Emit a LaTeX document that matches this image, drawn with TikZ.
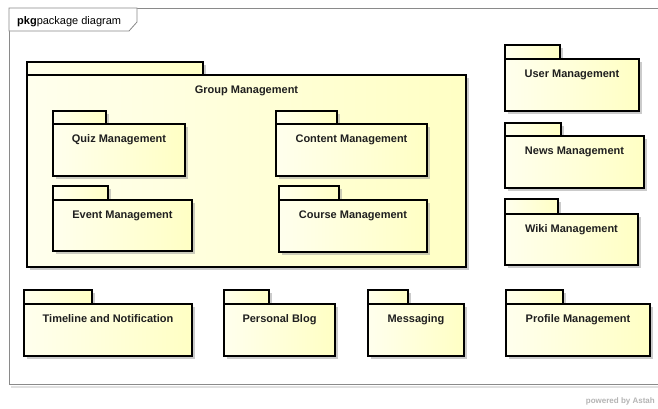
\documentclass[tikz,border=0pt]{standalone}
\usepackage{fontspec}
\setmainfont{Liberation Sans}
\usetikzlibrary{shadows}
\definecolor{pkgyel}{HTML}{FFFFC4}
\definecolor{framegray}{HTML}{8A8A8A}
\definecolor{astahgray}{HTML}{B4B4B4}
\tikzset{
  pkgpart/.style={draw=black, line width=1.4pt, inner sep=0pt, outer sep=0pt,
    left color=pkgyel!30!white, right color=pkgyel,
    drop shadow={shadow xshift=2.5pt, shadow yshift=-2.5pt, fill=black!40, opacity=0.5}},
  pkgtitle/.style={font=\fontsize{11}{13}\selectfont\bfseries, text=black!88, inner sep=0pt, anchor=base},
  framebox/.style={draw=framegray, line width=0.8pt, fill=white},
}
% #1 name, #2 x1, #3 tab top, #4 tab right, #5 body top, #6 x2, #7 bottom, #8 title
\newcommand\pkgbox[8]{%
  \node[pkgpart, anchor=north west, minimum width={(#4-#2)*1pt}, minimum height={(#5-#3)*1pt}]
    (#1-tab) at (#2,#3) {};
  \node[pkgpart, anchor=north west, minimum width={(#6-#2)*1pt}, minimum height={(#7-#5)*1pt}]
    (#1) at (#2,#5) {};
  \node[pkgtitle] (#1-title) at ([yshift=-18.5pt]#1.north) {#8};
}
\begin{document}
\begin{tikzpicture}[x=1pt, y=-1pt]
  \useasboundingbox (0,0) rectangle (658,408);
  \fill[white] (0,0) rectangle (658,408);
  % frame
  \fill[black!12] (11,386) rectangle (670,388);
  \draw[framebox] (9,8) rectangle (670,384);
  \draw[framegray, line width=0.8pt, fill=white] (9,8) -- (137,8) -- (137,22) -- (129,31) -- (9,31) -- cycle;
  \node[anchor=base west, inner sep=0pt, font=\fontsize{11}{13}\selectfont] (label) at (17,24)
    {\textbf{pkg}package diagram};
  % packages
  \pkgbox{group}{27}{62}{203}{75}{466}{267}{Group Management}
  \pkgbox{quiz}{53}{111}{106}{124}{185}{176}{Quiz Management}
  \pkgbox{content}{276}{111}{337}{124}{427}{176}{Content Management}
  \pkgbox{event}{53}{186}{108}{200}{192}{251}{Event Management}
  \pkgbox{course}{279}{186}{339}{200}{427}{252}{Course Management}
  \pkgbox{user}{505}{45}{560}{59}{639}{111}{User Management}
  \pkgbox{news}{505}{123}{561}{136}{644}{188}{News Management}
  \pkgbox{wiki}{505}{199}{558}{214}{638}{265}{Wiki Management}
  \pkgbox{timeline}{24}{290}{92}{304}{192}{356}{Timeline and Notification}
  \pkgbox{blog}{224}{290}{269}{304}{335}{356}{Personal Blog}
  \pkgbox{msg}{368}{290}{408}{304}{464}{356}{Messaging}
  \pkgbox{profile}{506}{290}{563}{304}{650}{356}{Profile Management}
  % footer
  \node[anchor=base east, inner sep=0pt, text=astahgray, font=\fontsize{8}{9}\selectfont\bfseries]
    (astah) at (655,403) {powered by Astah};
\end{tikzpicture}
\end{document}
